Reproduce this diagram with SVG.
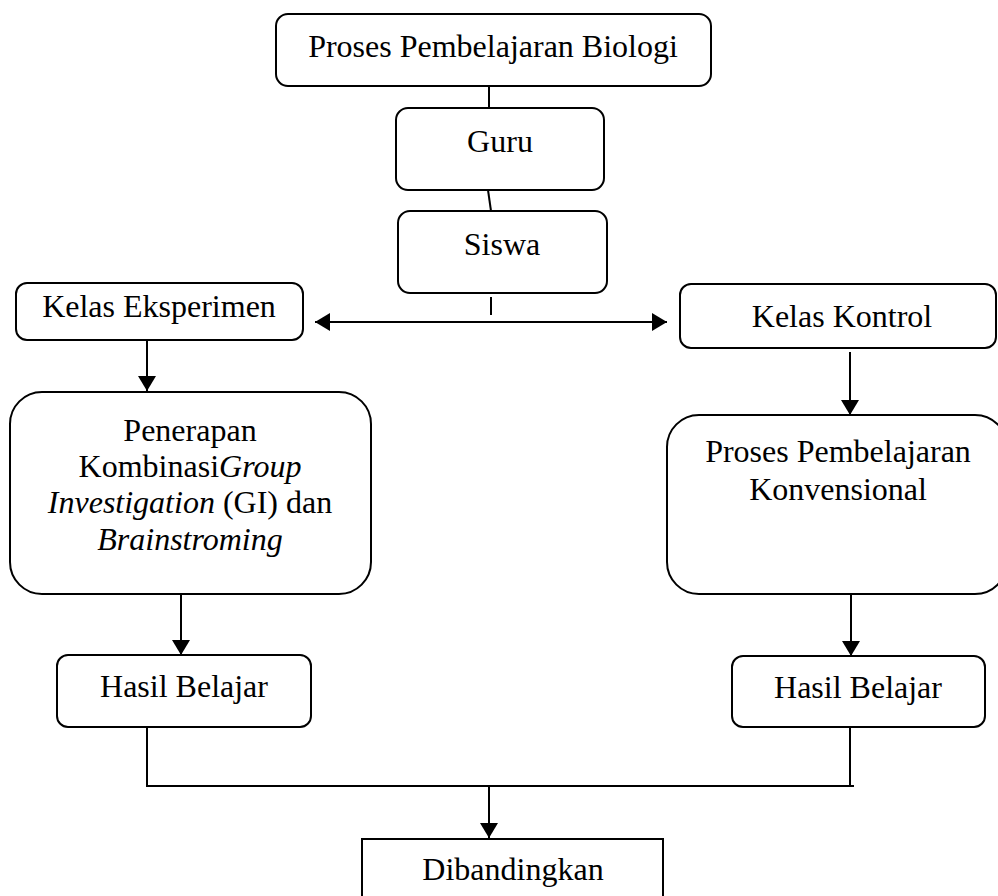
<svg xmlns="http://www.w3.org/2000/svg" width="998" height="896" viewBox="0 0 998 896">
<defs>
<style>
.box{fill:#fff;stroke:#000;stroke-width:2}
.t{font-family:"Liberation Serif","Times New Roman",serif;font-size:32px;fill:#000;text-anchor:middle}
.i{font-style:italic}
.c{fill:none;stroke:#000;stroke-width:2}
</style>
<marker id="ah" viewBox="0 0 15 18" refX="15" refY="9" markerWidth="15" markerHeight="18" markerUnits="userSpaceOnUse" orient="auto-start-reverse">
<path d="M0,0 L15,9 L0,18 z" fill="#000"/>
</marker>
</defs>
<rect width="998" height="896" fill="#fff"/>
<g id="connectors">
<line class="c" x1="489" y1="86" x2="489" y2="108"/>
<line class="c" x1="488" y1="190" x2="491" y2="211"/>
<line class="c" x1="491" y1="297" x2="491" y2="315"/>
<line class="c" x1="315" y1="322" x2="667" y2="322" marker-start="url(#ah)" marker-end="url(#ah)"/>
<line class="c" x1="147" y1="328" x2="147" y2="391" marker-end="url(#ah)"/>
<line class="c" x1="850" y1="352" x2="850" y2="415" marker-end="url(#ah)"/>
<line class="c" x1="181" y1="594" x2="181" y2="655" marker-end="url(#ah)"/>
<line class="c" x1="851" y1="594" x2="851" y2="656" marker-end="url(#ah)"/>
<polyline class="c" points="147,727 147,786 854,786"/>
<line class="c" x1="850" y1="727" x2="850" y2="786"/>
<line class="c" x1="489" y1="786" x2="489" y2="838" marker-end="url(#ah)"/>
</g>
<g id="n-proses">
<rect class="box" x="276" y="14" width="435" height="72" rx="12"/>
<text class="t" x="493" y="57">Proses Pembelajaran Biologi</text>
</g>
<g id="n-guru">
<rect class="box" x="396" y="108" width="208" height="82" rx="12"/>
<text class="t" x="500" y="152">Guru</text>
</g>
<g id="n-siswa">
<rect class="box" x="398" y="211" width="209" height="82" rx="12"/>
<text class="t" x="502" y="255">Siswa</text>
</g>
<g id="n-eksperimen">
<rect class="box" x="16" y="283" width="287" height="57" rx="11"/>
<text class="t" x="159" y="317">Kelas Eksperimen</text>
</g>
<g id="n-kontrol">
<rect class="box" x="680" y="284" width="316" height="64" rx="11"/>
<text class="t" x="842" y="327">Kelas Kontrol</text>
</g>
<g id="n-penerapan">
<rect class="box" x="10" y="392" width="361" height="202" rx="32"/>
<text class="t" x="190" y="441">Penerapan</text>
<text class="t" x="190" y="477">Kombinasi<tspan class="i">Group</tspan></text>
<text class="t" x="190" y="513"><tspan class="i">Investigation</tspan> (GI) dan</text>
<text class="t i" x="190" y="550">Brainstroming</text>
</g>
<g id="n-konvensional">
<rect class="box" x="667" y="415" width="340" height="179" rx="32"/>
<text class="t" x="838" y="462">Proses Pembelajaran</text>
<text class="t" x="838" y="500">Konvensional</text>
</g>
<g id="n-hasil-kiri">
<rect class="box" x="57" y="655" width="254" height="72" rx="11"/>
<text class="t" x="184" y="697">Hasil Belajar</text>
</g>
<g id="n-hasil-kanan">
<rect class="box" x="732" y="656" width="253" height="71" rx="11"/>
<text class="t" x="858" y="698">Hasil Belajar</text>
</g>
<g id="n-dibandingkan">
<rect class="box" x="362" y="839" width="301" height="70"/>
<text class="t" x="513" y="880">Dibandingkan</text>
</g>
</svg>
